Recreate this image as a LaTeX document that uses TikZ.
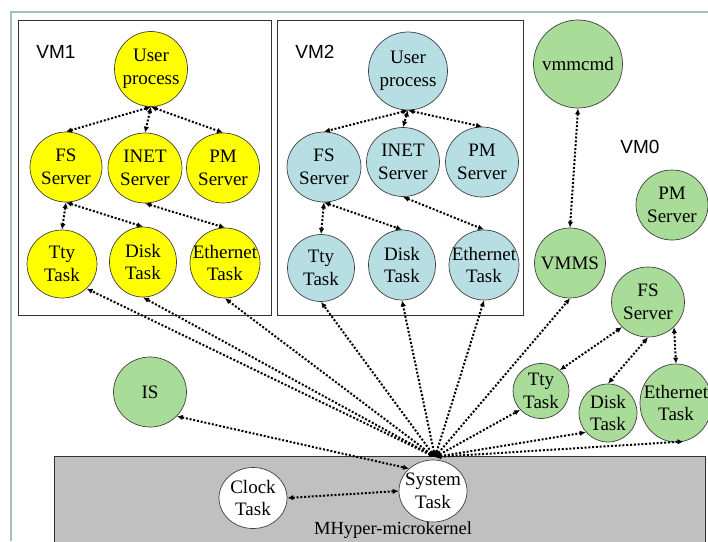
\documentclass[tikz,border=0pt]{standalone}
\usepackage{fontspec}
\setmainfont{Liberation Serif}
\newfontfamily\vmfont{Liberation Sans}
\usetikzlibrary{shapes.geometric,arrows.meta}
\definecolor{yel}{HTML}{FFFF00}
\definecolor{cyanish}{HTML}{B7DEE3}
\definecolor{grn}{HTML}{A8DC98}
\definecolor{kern}{HTML}{C0C0C0}
\definecolor{framec}{HTML}{A3BFC4}
\begin{document}
\begin{tikzpicture}[x=1pt,y=-1pt,
  proc/.style={ellipse, draw=black!75, line width=0.7pt, inner sep=0pt},
  dims/.style 2 args={minimum width=#1, minimum height=#2},
  txt/.style={font=\fontsize{19}{22.5}\selectfont, align=center, inner sep=0pt},
  yl/.style={proc, fill=yel},
  bl/.style={proc, fill=cyanish},
  gr/.style={proc, fill=grn},
  wt/.style={proc, fill=white},
  conn/.style={{Latex[length=6pt,width=5.5pt]}-{Latex[length=6pt,width=5.5pt]}, line width=2pt, dash pattern=on 2pt off 1.8pt},
  vmbox/.style={draw=black!80, line width=0.8pt},
  vmlabel/.style={font=\vmfont\fontsize{19}{22}\selectfont, inner sep=0pt}
]
\clip (0,0) rectangle (708,541);
\fill[white] (0,0) rectangle (708,541);
% slide frame
\draw[framec, line width=1.5pt] (10,12) -- (708,12);
\draw[framec, line width=1.5pt] (11,12) -- (11,541);
% kernel
\draw[fill=kern, draw=black!80, line width=0.8pt] (54,456) rectangle (705,548);
\node[font=\fontsize{18.5}{22}\selectfont, anchor=base, inner sep=0pt] (mk) at (393,534) {MHyper-microkernel};
% VM boxes
\draw[vmbox] (18,20) rectangle (271,315);
\draw[vmbox] (277,20) rectangle (523,315);
\node[vmlabel] (l1) at (56,52) {VM1};
\node[vmlabel] (l2) at (315,52) {VM2};
\node[vmlabel] (l0) at (640,147) {VM0};
% VM1
\node[yl, dims={73}{75}, label={[txt]center:User\\process}] (u1) at (151,69) {};
\node[yl, dims={72}{70}, label={[txt]center:FS\\Server}] (fs1) at (66,167) {};
\node[yl, dims={74}{70}, label={[txt]center:INET\\Server}] (in1) at (145,168) {};
\node[yl, dims={73}{70}, label={[txt]center:PM\\Server}] (pm1) at (223,168) {};
\node[yl, dims={70}{68}, label={[txt]center:Tty\\Task}] (tt1) at (62,264) {};
\node[yl, dims={67}{70}, label={[txt]center:Disk\\Task}] (dk1) at (143,262) {};
\node[yl, dims={70}{70}, label={[txt]center:Ethernet\\Task}] (et1) at (225,263) {};
% VM2
\node[bl, dims={79}{78}, label={[txt]center:User\\process}] (u2) at (408,71) {};
\node[bl, dims={74}{70}, label={[txt]center:FS\\Server}] (fs2) at (324,167) {};
\node[bl, dims={73}{69}, label={[txt]center:INET\\Server}] (in2) at (403,162) {};
\node[bl, dims={73}{70}, label={[txt]center:PM\\Server}] (pm2) at (482,162) {};
\node[bl, dims={67}{67}, label={[txt]center:Tty\\Task}] (tt2) at (321,268) {};
\node[bl, dims={67}{70}, label={[txt]center:Disk\\Task}] (dk2) at (402,265) {};
\node[bl, dims={70}{70}, label={[txt]center:Ethernet\\Task}] (et2) at (484,265) {};
% VM0
\node[gr, dims={89}{88}, label={[txt]center:vmmcmd}] (vc) at (578,64) {};
\node[gr, dims={71}{70}, label={[txt]center:VMMS}] (vs) at (570,263) {};
\node[gr, dims={72}{70}, label={[txt]center:PM\\Server}] (pm0) at (672,205) {};
\node[gr, dims={73}{70}, label={[txt]center:FS\\Server}] (fs0) at (648,302) {};
\node[gr, dims={56}{55}, label={[txt]center:Tty\\Task}] (tt0) at (541,391) {};
\node[gr, dims={58}{58}, label={[txt]center:Disk\\Task}] (dk0) at (608,413) {};
\node[gr, dims={72}{78}, label={[txt]center:Ethernet\\Task}] (et0) at (676,403) {};
\node[gr, dims={73}{70}, label={[txt]center:IS}] (is) at (150,392) {};
% kernel tasks
\node[wt, dims={68}{61}, label={[txt]center:Clock\\Task}] (ck) at (253,498) {};
\node[wt, dims={68}{62}, label={[txt]center:System\\Task}] (st) at (433,491) {};
\coordinate (hub) at (435,457);
% VM1 edges
\draw[conn] (u1.south) -- (fs1.north);
\draw[conn] (u1.south) -- (in1.north);
\draw[conn] (u1.south) -- (pm1.north);
\draw[conn] (fs1.south) -- (tt1.north);
\draw[conn] (fs1.south) -- (dk1.north);
\draw[conn] (in1.south) -- (et1.north);
% VM2 edges
\draw[conn] (u2.south) -- (fs2.north);
\draw[conn] (u2.south) -- (in2.north);
\draw[conn] (u2.south) -- (pm2.north);
\draw[conn] (fs2.south) -- (tt2.north);
\draw[conn] (fs2.south) -- (dk2.north);
\draw[conn] (in2.south) -- (et2.north);
% VM0 edges
\draw[conn] (vc.south) -- (vs.north);
\draw[conn] (fs0.224) -- (tt0.48);
\draw[conn] (fs0.south) -- (dk0.north);
\draw[conn] (fs0.316) -- (et0.north);
% kernel edges
\draw[conn] (hub) -- (tt1.315);
\draw[conn] (hub) -- (dk1.south);
\draw[conn] (hub) -- (et1.south);
\draw[conn] (hub) -- (tt2.south);
\draw[conn] (hub) -- (dk2.south);
\draw[conn] (hub) -- (et2.south);
\draw[conn] (hub) -- (vs.south);
\draw[conn] (hub) -- (tt0.222);
\draw[conn] (hub) -- (dk0.221);
\draw[conn] (hub) -- (et0.281);
\draw[conn] (is.318) -- (st.137);
\draw[conn] (ck.east) -- (st.west);
\end{tikzpicture}
\end{document}
